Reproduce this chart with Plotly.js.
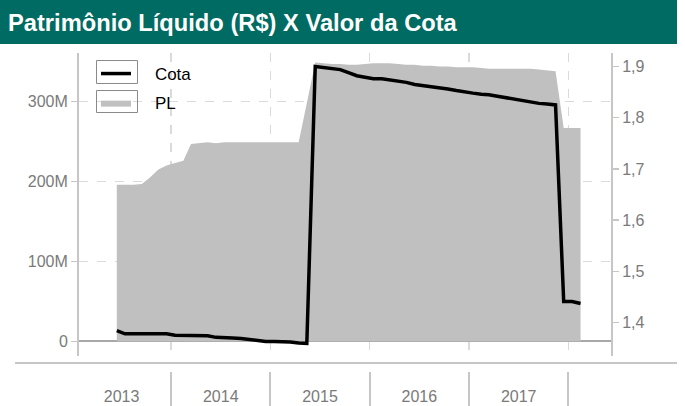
<!DOCTYPE html>
<html>
<head>
<meta charset="utf-8">
<script src="https://cdn.plot.ly/plotly-3.0.1.min.js"></script>
<style>html,body{margin:0;padding:0;background:#fff;}#chart{width:685px;height:406px;}</style>
</head>
<body>
<div id="chart"></div>
<script>
// ---- data ----
const months = [
  '2013-06-15','2013-07-15','2013-08-15','2013-09-15','2013-10-15','2013-11-15','2013-12-15',
  '2014-01-15','2014-02-15','2014-03-15','2014-04-15','2014-05-15','2014-06-15','2014-07-15','2014-08-15','2014-09-15','2014-10-15','2014-11-15','2014-12-15',
  '2015-01-15','2015-02-15','2015-03-15','2015-04-15','2015-05-15','2015-06-15','2015-07-15','2015-08-15','2015-09-15','2015-10-15','2015-11-15','2015-12-15',
  '2016-01-15','2016-02-15','2016-03-15','2016-04-15','2016-05-15','2016-06-15','2016-07-15','2016-08-15','2016-09-15','2016-10-15','2016-11-15','2016-12-15',
  '2017-01-15','2017-02-15','2017-03-15','2017-04-15','2017-05-15','2017-06-15','2017-07-15','2017-08-15','2017-09-15','2017-10-15','2017-11-15','2017-12-15',
  '2018-01-15','2018-02-15'
];
// Patrimônio Líquido, R$ millions
const plMillions = [
  196,196,196,197,205,215,220,
  223,226,247,248,249,248,249,249,249,249,249,249,
  249,249,249,249,298,349,348,347,347,346,346,347,
  348,348,348,347,346,346,345,345,344,344,343,343,
  343,342,341,341,341,341,341,341,340,339,338,267,
  267,267
];
// Valor da Cota
const cota = [
  1.384,1.378,1.378,1.378,1.378,1.378,1.378,
  1.375,1.375,1.375,1.375,1.374,1.371,1.371,1.370,1.369,1.367,1.365,1.363,
  1.363,1.363,1.362,1.360,1.359,1.900,1.898,1.896,1.894,1.888,1.882,1.879,
  1.876,1.876,1.874,1.871,1.869,1.865,1.863,1.860,1.858,1.856,1.853,1.850,
  1.848,1.846,1.845,1.842,1.839,1.837,1.833,1.830,1.828,1.827,1.825,1.441,
  1.441,1.437
];
const seriesNames = ['Cota','PL'];
const titleText = 'Patrimônio Líquido (R$) X Valor da Cota';

// ---- layout helpers (pixel -> paper) ----
const W = 685, H = 406, ML = 79, MR = 74, MT = 53, MB = 0;
const PW = W - ML - MR, PH = H - MT - MB;
const px = x => (x - ML) / PW;
const py = y => (H - MB - y) / PH;
const pad = '\u00a0\u00a0\u00a0\u00a0'; // spacing between legend key frame and label

const FONT = 'Liberation Sans, Arial, sans-serif';
const AXC = '#c6c6c6';
const TICKC = '#7a7a7a';
const xRange = ['2013-01-27', '2018-06-07'];

const traces = [
  {
    x: months, y: plMillions.map(v => v * 1e6), name: pad + seriesNames[1],
    type: 'scatter', mode: 'lines', fill: 'tozeroy',
    fillcolor: '#c0c0c0', line: {width: 0, color: '#c0c0c0'},
    xaxis: 'x', yaxis: 'y', legendrank: 2, legendgroup: 'pl', hoverinfo: 'skip'
  },
  {
    x: months, y: cota, name: pad + seriesNames[0],
    type: 'scatter', mode: 'lines',
    line: {width: 3.5, color: '#000'},
    xaxis: 'x', yaxis: 'y2', legendrank: 1, legendgroup: 'cota', hoverinfo: 'skip'
  },
  // carrier for the category-separator axis at the bottom (draws nothing)
  {
    x: months, y: cota, type: 'scatter', mode: 'none',
    xaxis: 'x2', yaxis: 'y2', showlegend: false, hoverinfo: 'skip'
  }
];

const layout = {
  width: W, height: H,
  margin: {l: ML, r: MR, t: MT, b: MB, pad: 0},
  paper_bgcolor: '#fff', plot_bgcolor: 'rgba(0,0,0,0)',
  separators: ',.',
  font: {family: FONT, color: TICKC},
  title: {
    text: titleText, xref: 'container', yref: 'container',
    x: 8 / W, xanchor: 'left', y: 1 - 23 / H, yanchor: 'middle',
    font: {family: 'Liberation Sans Narrow, Arial Narrow, Liberation Sans, Arial, sans-serif', size: 23.7, color: '#fff', weight: 'bold'}
  },
  showlegend: true,
  legend: {
    x: px(96), xanchor: 'left', y: py(56), yanchor: 'top',
    bgcolor: 'rgba(0,0,0,0)', borderwidth: 0,
    font: {family: FONT, size: 17, color: '#000'},
    itemwidth: 30, traceorder: 'grouped', tracegroupgap: 4
  },
  xaxis: {
    type: 'date', range: xRange, anchor: 'y',
    tick0: '2013-01-01', dtick: 'M12', ticklabelmode: 'period', tickformat: '%Y',
    ticks: 'outside', ticklen: 26, tickcolor: 'rgba(0,0,0,0)',
    tickfont: {family: FONT, size: 16, color: TICKC},
    showgrid: true, gridcolor: '#dadada', griddash: 'dash', gridwidth: 1.5,
    showline: false, zeroline: false, fixedrange: true
  },
  xaxis2: {
    type: 'date', range: xRange, overlaying: 'x', anchor: 'free', position: 0,
    tick0: '2013-01-01', dtick: 'M12',
    ticks: 'inside', ticklen: 34, tickwidth: 2, tickcolor: AXC,
    showticklabels: false, showgrid: false, showline: false, zeroline: false
  },
  yaxis: {
    range: [-18.4e6, 360.8e6], domain: [py(356), 1],
    tick0: 0, dtick: 100e6, tickformat: '~s',
    ticks: 'outside', ticklen: 6, tickwidth: 1.5, tickcolor: AXC,
    tickfont: {family: FONT, size: 16, color: TICKC},
    showline: true, linecolor: AXC, linewidth: 2,
    showgrid: true, gridcolor: '#dadada', griddash: 'dash', gridwidth: 1.5,
    zeroline: true, zerolinecolor: '#a8a8a8', zerolinewidth: 2
  },
  yaxis2: {
    overlaying: 'y', side: 'right', anchor: 'x',
    range: [1.3346, 1.9264], tick0: 1.4, dtick: 0.1, tickformat: '.1f',
    ticks: 'outside', ticklen: 6, tickwidth: 1.5, tickcolor: AXC,
    tickfont: {family: FONT, size: 16, color: TICKC},
    showline: true, linecolor: AXC, linewidth: 2,
    showgrid: false, zeroline: false
  },
  shapes: [
    {type: 'rect', xref: 'paper', yref: 'paper', layer: 'below',
     x0: px(0), x1: px(677), y0: py(44), y1: py(0),
     fillcolor: '#006b62', line: {width: 0}},
    {type: 'line', xref: 'paper', yref: 'paper', layer: 'below',
     x0: px(15), x1: px(677), y0: py(363), y1: py(363),
     line: {color: AXC, width: 2}},
    // legend key frames
    {type: 'rect', xref: 'paper', yref: 'paper', layer: 'above',
     x0: px(96.5), x1: px(137.5), y0: py(60.5), y1: py(83.5),
     line: {color: '#8a8a8a', width: 1}},
    {type: 'rect', xref: 'paper', yref: 'paper', layer: 'above',
     x0: px(96.5), x1: px(137.5), y0: py(90.5), y1: py(112.5),
     line: {color: '#8a8a8a', width: 1}}
  ]
};

Plotly.newPlot('chart', traces, layout, {staticPlot: true, displayModeBar: false});
</script>
</body>
</html>
